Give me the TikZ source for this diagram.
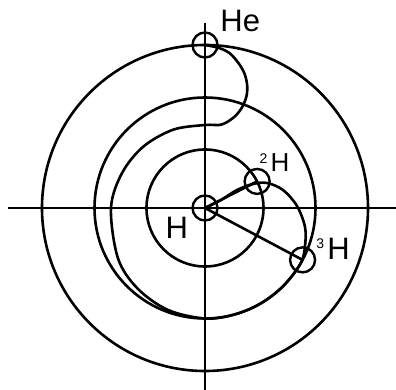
\documentclass[tikz,border=0pt]{standalone}
\usepackage{fontspec}
\setmainfont{Liberation Sans}
\usetikzlibrary{positioning, calc}
\newcommand{\iso}[2]{\raisebox{\dimexpr\fontcharht\font`H-5pt\relax}{\fontsize{7}{8}\selectfont #1}\kern1.6pt #2}

\begin{document}
\begin{tikzpicture}[x=0.5pt, y=0.5pt,
  orbit/.style={line width=1.3pt},
  nucleus/.style={circle, draw, line width=1.2pt, minimum size=12.5pt, inner sep=0pt},
  lbl/.style={inner sep=0pt, font=\fontsize{15.5}{18}\selectfont}]
  \useasboundingbox (-205,-182) rectangle (191,208);
  % Axes
  \coordinate (axW) at (-197,0);
  \coordinate (axE) at (191,0);
  \coordinate (axN) at (0,185);
  \coordinate (axS) at (0,-182);
  \draw[line width=0.6pt] (axW) -- (axE);
  \draw[line width=0.6pt] (axN) -- (axS);
  % Shells
  \draw[orbit] (0,0) circle (163);
  \draw[orbit] (0,0) circle (110.5);
  \draw[orbit] (0,0) circle (58.5);
  % Nuclei
  \node[nucleus] (H) at (0,0) {};
  \node[nucleus] (D) at (27:58.5) {};
  \node[nucleus] (T) at (-28:110.5) {};
  \node[nucleus] (He) at (90:163) {};
  % Labels
  \node[lbl] (HeL) at (35.3,186.8) {He};
  \node[lbl, font=\fontsize{13}{15}\selectfont] (DL) at (69.5,45.5) {\iso{2}{H}};
  \node[lbl] (TL) at (128,-41) {\iso{3}{H}};
  \node[lbl] (HL) at (-28.3,-19.8) {H};
  % Bonds
  \draw[orbit] (H.center) -- (D.center);
  \draw[orbit] (H.center) -- (T.center);
  % Fusion path: H -> 2H -> 3H -> He
  \draw[orbit] plot[smooth, tension=0.55] coordinates {
    (H.center) (16,8) (32,18) (48,24) (62,25) (78,18) (92,2) (100,-19)
    (100,-38) (-30:110.5) (-45:110.5) (-60:110.5) (-75:110.5) (-90:110.5)
    (-110:108.5) (-130:105) (-150:100.5) (180:94) (157:90) (135:87)
    (112:84.5) (90:83) (16,83.3) (28,90) (36,99) (41,110) (42.3,121)
    (40,133) (34.5,143.5) (25,154.5) (14,160) (He.center)};
\end{tikzpicture}
\end{document}
